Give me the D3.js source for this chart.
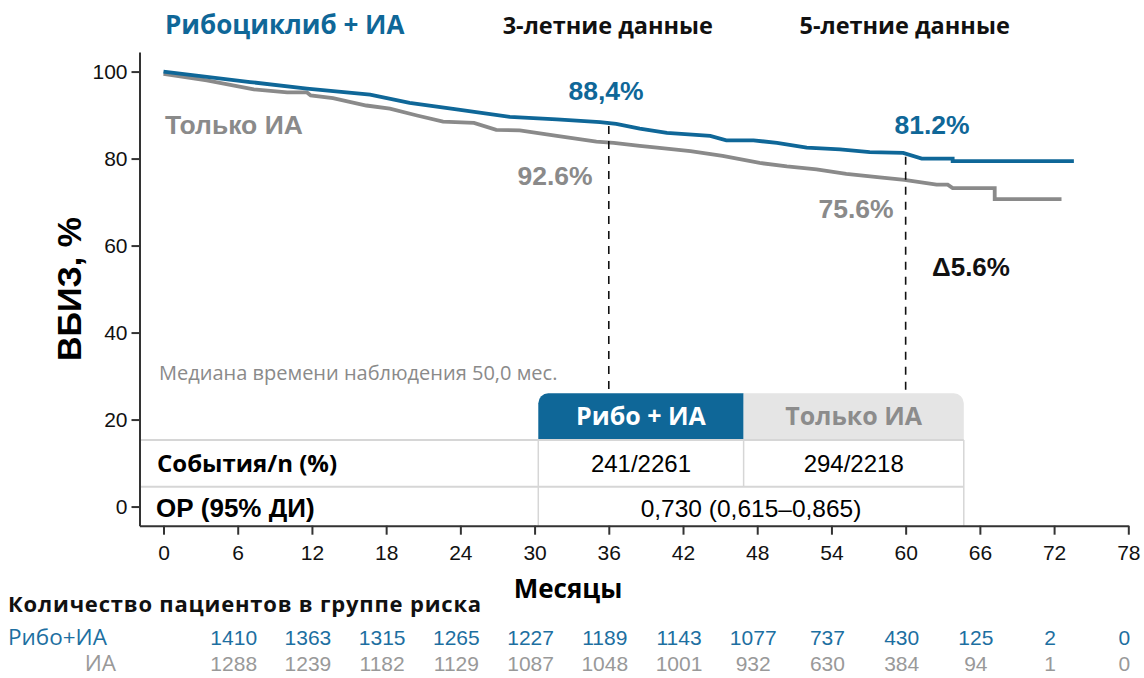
<!DOCTYPE html>
<html>
<head>
<meta charset="utf-8">
<script src="https://cdn.jsdelivr.net/npm/d3@7"></script>
<style>
  body { margin: 0; background: #fff; }
  svg { display: block; }
</style>
</head>
<body>
<div id="chart"></div>
<script>
// KM curve, ribociclib + AI (months, % iDFS)
var ribTime = [0, 7.0, 11.6, 16.7, 19.9, 23.7, 28.0, 31.8, 35.3, 36.6, 38.5, 40.7, 44.2, 45.5, 47.7, 49.6, 52.0, 54.7, 57.1, 59.8, 61.3, 63.8, 63.8, 73.6];
var ribSurv = [100, 97.6, 96.1, 94.7, 92.8, 91.3, 89.6, 89.0, 88.4, 88.0, 86.9, 85.9, 85.2, 84.2, 84.2, 83.6, 82.5, 82.1, 81.5, 81.3, 80.0, 80.0, 79.4, 79.4];

// KM curve, AI only
var aiTime = [0, 3.5, 7.3, 10, 11.6, 11.9, 13.7, 16.4, 18.3, 20.5, 22.6, 25.1, 26.9, 28.8, 31.8, 35.0, 36.4, 38.5, 39.9, 42.6, 45.2, 48.2, 50.4, 52.8, 55.2, 57.9, 59.9, 62.5, 63.4, 63.8, 67.2, 67.2, 72.6];
var aiSurv = [99.5, 98.0, 95.9, 95.2, 95.2, 94.5, 93.9, 92.2, 91.5, 89.9, 88.5, 88.2, 86.6, 86.5, 85.2, 83.9, 83.6, 82.9, 82.5, 81.7, 80.6, 79.0, 78.2, 77.5, 76.5, 75.7, 75.1, 74.0, 74.0, 73.2, 73.2, 70.7, 70.7];

var xTicks = [0, 6, 12, 18, 24, 30, 36, 42, 48, 54, 60, 66, 72, 78];
var yTicks = [0, 20, 40, 60, 80, 100];

// patients at risk (months 6..78)
var riskMonths = [6, 12, 18, 24, 30, 36, 42, 48, 54, 60, 66, 72, 78];
var riskRib = [1410, 1363, 1315, 1265, 1227, 1189, 1143, 1077, 737, 430, 125, 2, 0];
var riskAi = [1288, 1239, 1182, 1129, 1087, 1048, 1001, 932, 630, 384, 94, 1, 0];

// landmarks: months, label rib, label ai
var landmarkMonths = [36, 60];
var landmarkTitles = ["3-летние данные", "5-летние данные"];
var ribLabels = ["88,4%", "81.2%"];
var aiLabels = ["92.6%", "75.6%"];

var tableCols = ["Рибо + ИА", "Только ИА"];
var eventsRow = ["241/2261", "294/2218"];
var hrText = "0,730 (0,615–0,865)";

var BLUE = "#0f6798";
var GREY = "#8a8a8a";
var OS = "'Open Sans', sans-serif";
var HS = "'Liberation Sans', Arial, sans-serif";

var W = 1144, H = 678;
var svg = d3.select("#chart").append("svg")
    .attr("width", W)
    .attr("height", H);

var x = d3.scaleLinear().domain([-1.94, 78]).range([139.5, 1128.3]);
var y = d3.scaleLinear().domain([-4.4, 104.5]).range([525.7, 52]);

// ---- table (drawn first, sits under the plot) ----
var colX = [x(30.3), x(46.9), x(64.7)];
var rowY = [393.3, 440, 486.7, 525.7];
var tbl = svg.append("g");

// header cells with rounded outer top corners
function headerPath(x0, x1, y0, y1, rLeft, rRight) {
    var p = d3.path();
    p.moveTo(x0, y1);
    p.lineTo(x0, y0 + rLeft);
    if (rLeft) p.arcTo(x0, y0, x0 + rLeft, y0, rLeft);
    p.lineTo(x1 - rRight, y0);
    if (rRight) p.arcTo(x1, y0, x1, y0 + rRight, rRight);
    p.lineTo(x1, y1);
    p.closePath();
    return p.toString();
}
tbl.append("path").attr("d", headerPath(colX[0], colX[1], rowY[0], rowY[1], 10, 0)).attr("fill", BLUE);
tbl.append("path").attr("d", headerPath(colX[1], colX[2], rowY[0], rowY[1], 0, 10)).attr("fill", "#e5e5e5");

tbl.selectAll(".hline").data([rowY[1], rowY[2]]).enter().append("line")
    .attr("x1", x(-1.94)).attr("x2", colX[2])
    .attr("y1", function(d) { return d; }).attr("y2", function(d) { return d; })
    .attr("stroke", "#d6d6d6").attr("stroke-width", 2);
var vlines = [[colX[0], rowY[1], rowY[3]], [colX[1], rowY[1], rowY[2]], [colX[2], rowY[1], rowY[3]]];
tbl.selectAll(".vline").data(vlines).enter().append("line")
    .attr("x1", function(d) { return d[0]; }).attr("x2", function(d) { return d[0]; })
    .attr("y1", function(d) { return d[1]; }).attr("y2", function(d) { return d[2]; })
    .attr("stroke", "#d6d6d6").attr("stroke-width", 1.5);

tbl.selectAll(".hdr").data(tableCols).enter().append("text")
    .attr("x", function(d, i) { return (colX[i] + colX[i + 1]) / 2; })
    .attr("y", 425)
    .attr("text-anchor", "middle")
    .attr("font-family", OS).attr("font-weight", 700).attr("font-size", 25)
    .attr("fill", function(d, i) { return i == 0 ? "#fff" : "#8c8c8c"; })
    .text(function(d) { return d; });

tbl.append("text").attr("x", 157).attr("y", 472)
    .attr("font-family", OS).attr("font-weight", 700).attr("font-size", 24)
    .text("События/n (%)");
tbl.append("text").attr("x", 156).attr("y", 517)
    .attr("font-family", HS).attr("font-weight", 700).attr("font-size", 26)
    .text("ОР (95% ДИ)");
tbl.selectAll(".ev").data(eventsRow).enter().append("text")
    .attr("x", function(d, i) { return (colX[i] + colX[i + 1]) / 2; })
    .attr("y", 472)
    .attr("text-anchor", "middle")
    .attr("font-family", HS).attr("font-size", 24)
    .text(function(d) { return d; });
tbl.append("text").attr("x", (colX[0] + colX[2]) / 2).attr("y", 517)
    .attr("text-anchor", "middle")
    .attr("font-family", HS).attr("font-size", 24.5)
    .text(hrText);

// ---- axes ----
var xAxis = svg.append("g")
    .attr("transform", "translate(0," + y(-4.4) + ")")
    .call(d3.axisBottom(x).tickValues(xTicks).tickSize(9).tickSizeOuter(0).tickPadding(10));
var yAxis = svg.append("g")
    .attr("transform", "translate(" + x(-1.94) + ",0)")
    .call(d3.axisLeft(y).tickValues(yTicks).tickSize(8).tickSizeOuter(0).tickPadding(4));
[xAxis, yAxis].forEach(function(a) {
    a.select(".domain").attr("stroke", "#333").attr("stroke-width", 2);
    a.selectAll(".tick line").attr("stroke", "#333").attr("stroke-width", 2);
    a.selectAll(".tick text").attr("font-family", HS).attr("font-size", 21).attr("fill", "#111");
});

svg.append("text")
    .attr("transform", "translate(81," + y(50) + ") rotate(-90)")
    .attr("text-anchor", "middle")
    .attr("font-family", HS).attr("font-weight", 700).attr("font-size", 34)
    .text("ВБИЗ, %");
svg.append("text").attr("x", 568).attr("y", 598)
    .attr("text-anchor", "middle")
    .attr("font-family", OS).attr("font-weight", 700).attr("font-size", 26)
    .text("Месяцы");

// ---- curves ----
function pts(t, v) { return t.map(function(d, i) { return [d, v[i]]; }); }
var line = d3.line().x(function(d) { return x(d[0]); }).y(function(d) { return y(d[1]); });
svg.append("path").datum(pts(aiTime, aiSurv))
    .attr("d", line).attr("fill", "none").attr("stroke", GREY).attr("stroke-width", 3.8);
svg.append("path").datum(pts(ribTime, ribSurv))
    .attr("d", line).attr("fill", "none").attr("stroke", BLUE).attr("stroke-width", 3.8);

// landmark dashed lines, from the blue curve down to the table
function survAt(t, times, surv) {
    var i = d3.bisectRight(times, t);
    var t0 = times[i - 1], t1 = times[i];
    return surv[i - 1] + (surv[i] - surv[i - 1]) * (t - t0) / (t1 - t0);
}
svg.selectAll(".lm").data(landmarkMonths).enter().append("line")
    .attr("x1", function(d) { return x(d); }).attr("x2", function(d) { return x(d); })
    .attr("y1", function(d) { return y(survAt(d, ribTime, ribSurv)) + 3; })
    .attr("y2", 390)
    .attr("stroke", "#111").attr("stroke-width", 1.6).attr("stroke-dasharray", "8,7");

// ---- labels ----
svg.append("text").attr("x", 165).attr("y", 34)
    .attr("font-family", OS).attr("font-weight", 700).attr("font-size", 26)
    .attr("fill", BLUE).text("Рибоциклиб + ИА");
svg.selectAll(".lmt").data(landmarkTitles).enter().append("text")
    .attr("x", function(d, i) { return x(landmarkMonths[i]) - 1; }).attr("y", 34)
    .attr("text-anchor", "middle")
    .attr("font-family", OS).attr("font-weight", 700).attr("font-size", 23.5)
    .attr("fill", "#111").text(function(d) { return d; });

svg.append("text").attr("x", 165).attr("y", 134)
    .attr("font-family", HS).attr("font-weight", 700).attr("font-size", 26.5)
    .attr("fill", GREY).text("Только ИА");

var labelPos = [[606, 100, 555, 185], [932, 134, 856, 218]];
svg.selectAll(".rl").data(ribLabels).enter().append("text")
    .attr("x", function(d, i) { return labelPos[i][0]; }).attr("y", function(d, i) { return labelPos[i][1]; })
    .attr("text-anchor", "middle")
    .attr("font-family", HS).attr("font-weight", 700).attr("font-size", 26.5)
    .attr("fill", BLUE).text(function(d) { return d; });
svg.selectAll(".al").data(aiLabels).enter().append("text")
    .attr("x", function(d, i) { return labelPos[i][2]; }).attr("y", function(d, i) { return labelPos[i][3]; })
    .attr("text-anchor", "middle")
    .attr("font-family", HS).attr("font-weight", 700).attr("font-size", 26.5)
    .attr("fill", GREY).text(function(d) { return d; });
svg.append("text").attr("x", 932).attr("y", 276)
    .attr("font-family", HS).attr("font-weight", 700).attr("font-size", 26)
    .attr("fill", "#111").text("Δ5.6%");

svg.append("text").attr("x", 159).attr("y", 380)
    .attr("font-family", OS).attr("font-size", 20)
    .attr("fill", GREY)
    .text("Медиана времени наблюдения 50,0 мес.");

// ---- patients at risk ----
svg.append("text").attr("x", 8).attr("y", 612)
    .attr("font-family", OS).attr("font-weight", 700).attr("font-size", 22)
    .attr("letter-spacing", 0.8)
    .attr("fill", "#111").text("Количество пациентов в группе риска");
svg.append("text").attr("x", 8).attr("y", 645)
    .attr("font-family", OS).attr("font-size", 22.5)
    .attr("fill", "#1d6fa1").text("Рибо+ИА");
svg.append("text").attr("x", 116).attr("y", 671)
    .attr("text-anchor", "end")
    .attr("font-family", OS).attr("font-size", 22.5)
    .attr("fill", "#999").text("ИА");

svg.selectAll(".rr").data(riskRib).enter().append("text")
    .attr("x", function(d, i) { return x(riskMonths[i]) - 4; }).attr("y", 645)
    .attr("text-anchor", "middle")
    .attr("font-family", HS).attr("font-size", 21)
    .attr("fill", "#1d6fa1").text(function(d) { return d; });
svg.selectAll(".ra").data(riskAi).enter().append("text")
    .attr("x", function(d, i) { return x(riskMonths[i]) - 4; }).attr("y", 671)
    .attr("text-anchor", "middle")
    .attr("font-family", HS).attr("font-size", 21)
    .attr("fill", "#999").text(function(d) { return d; });
</script>
</body>
</html>
